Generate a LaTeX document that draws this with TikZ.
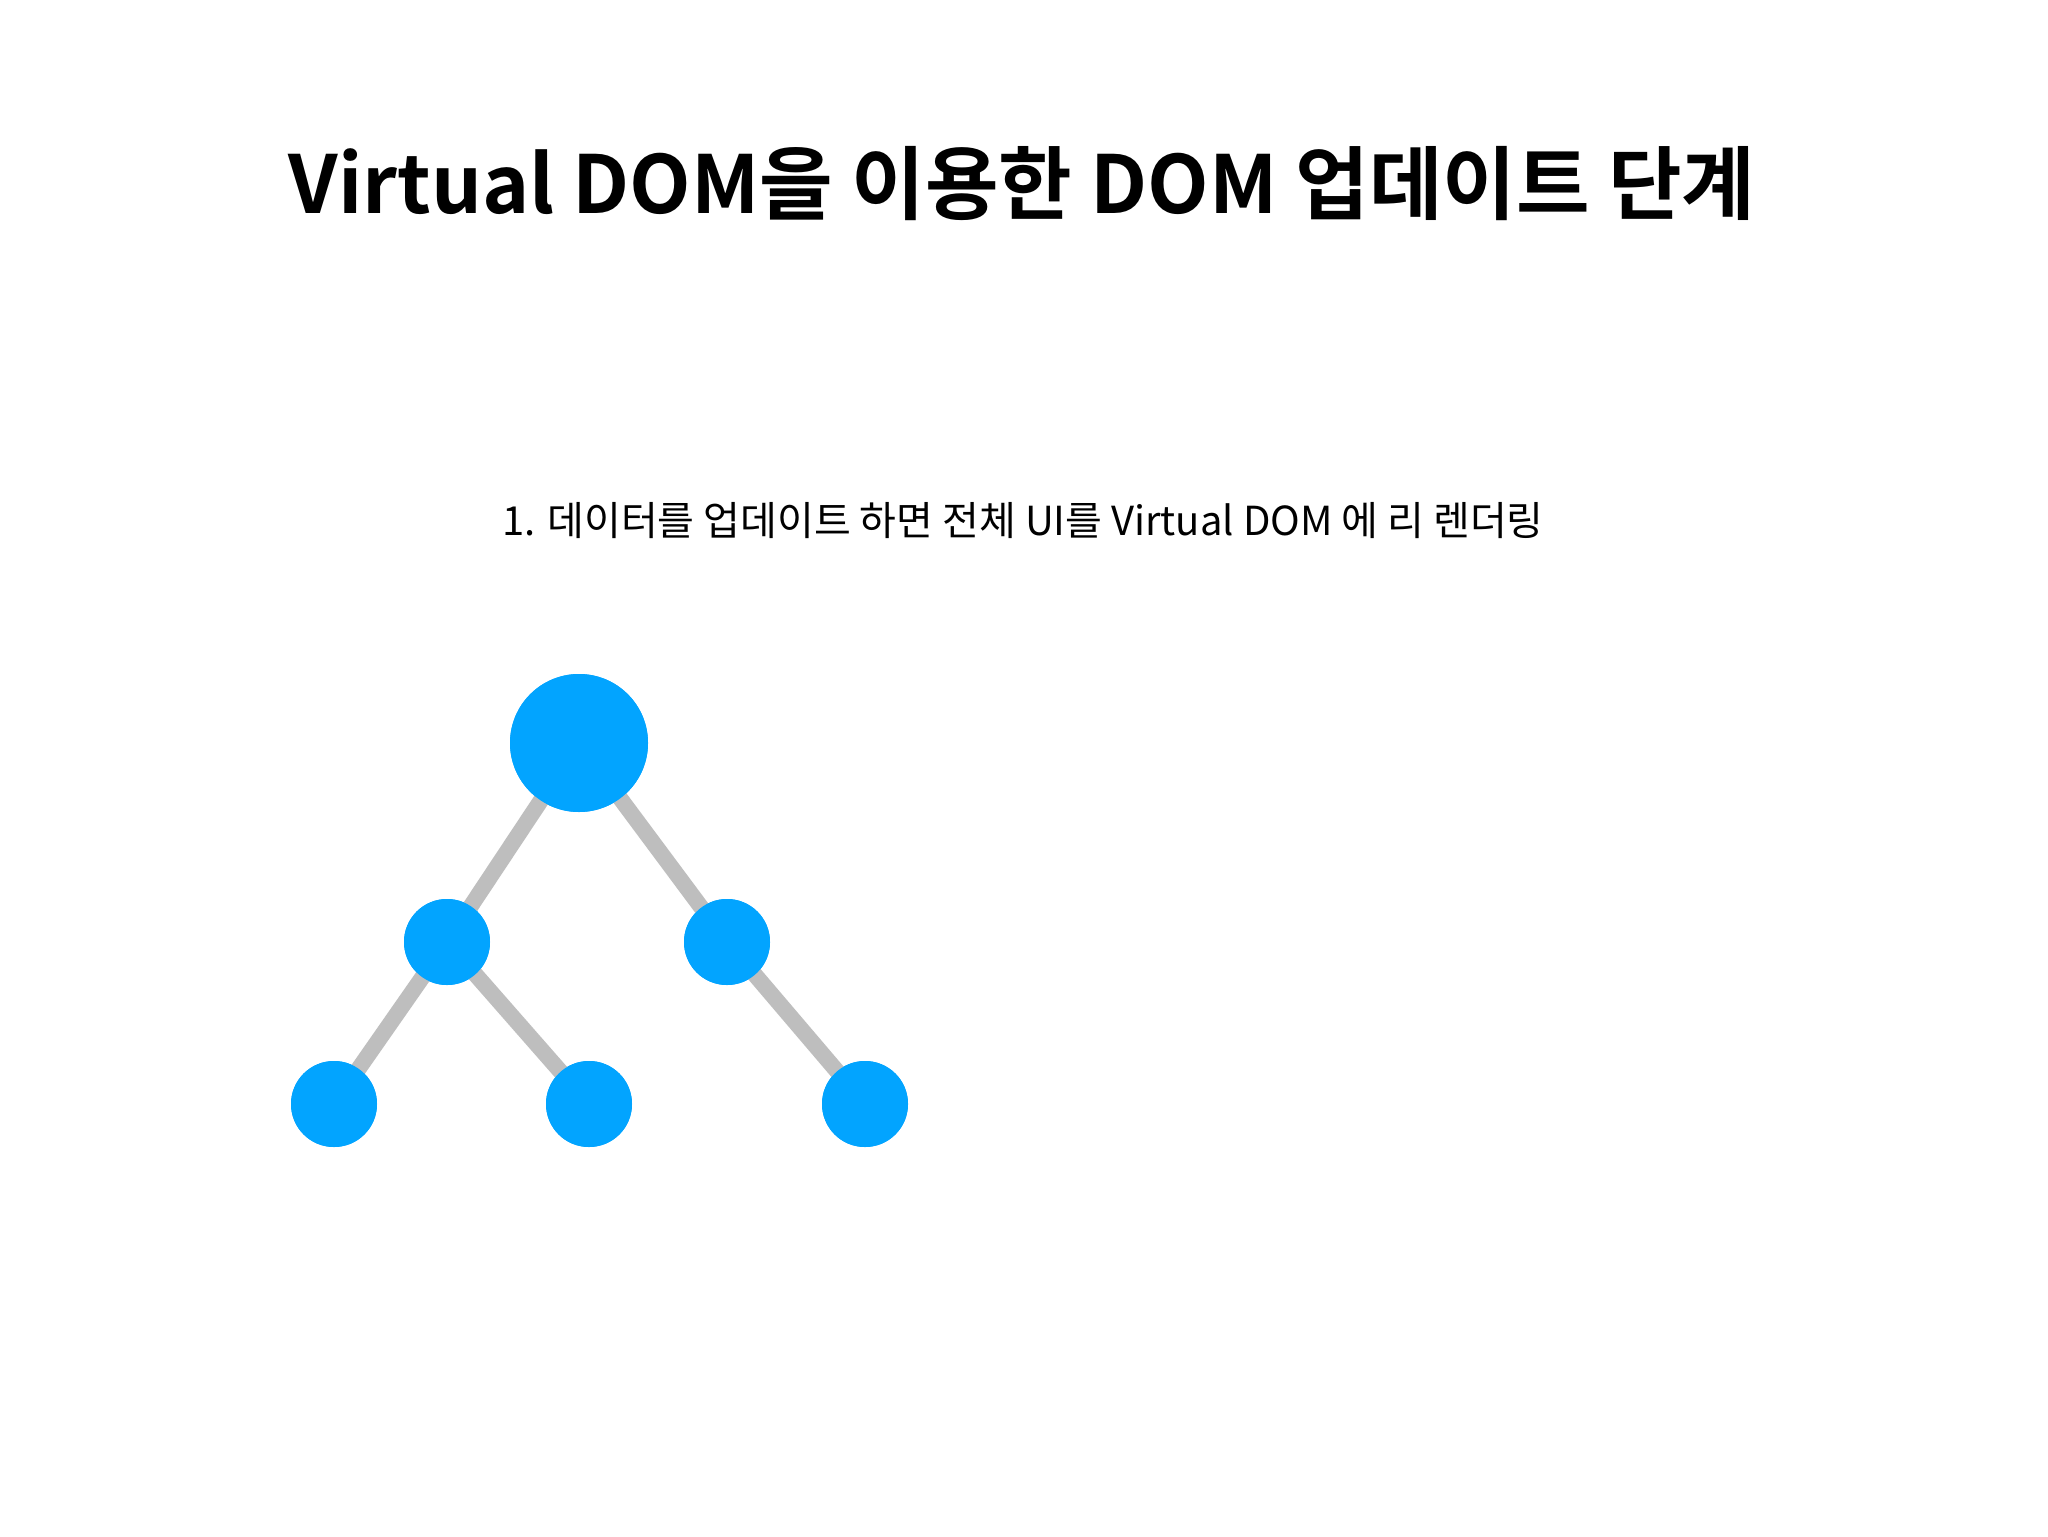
\documentclass[tikz,border=0pt]{standalone}
\usepackage{fontspec}
\setmainfont{Noto Sans CJK KR}
\newfontfamily\krbold{Noto Sans CJK KR Bold}
\definecolor{nodeblue}{RGB}{2,164,255}
\definecolor{edgegray}{RGB}{190,190,190}
\begin{document}
\begin{tikzpicture}[x=0.5pt,y=-0.5pt,
  treenode/.style={circle,fill=nodeblue,inner sep=0pt},
  bignode/.style={treenode,minimum size=69pt},
  smallnode/.style={treenode,minimum size=43pt},
  edge/.style={draw=edgegray,line width=8pt}]
\useasboundingbox (0,0) rectangle (2048,1536);
\fill[white] (0,0) rectangle (2048,1536);
\node[anchor=base,inner sep=0pt,font=\krbold\fontsize{40}{48}\selectfont] (title) at (1022,213) {Virtual DOM을 이용한 DOM 업데이트 단계};
\node[anchor=base,inner sep=0pt,font=\fontsize{20}{24}\selectfont] (sub) at (1023,535) {1. 데이터를 업데이트 하면 전체 UI를 Virtual DOM 에 리 렌더링};
\node[bignode] (r) at (579,743) {};
\node[smallnode] (a) at (447,942) {};
\node[smallnode] (b) at (727,942) {};
\node[smallnode] (c) at (334,1104) {};
\node[smallnode] (d) at (589,1104) {};
\node[smallnode] (e) at (865,1104) {};
\path[edge] (r.center) -- (a.center);
\path[edge] (r.center) -- (b.center);
\path[edge] (a.center) -- (c.center);
\path[edge] (a.center) -- (d.center);
\path[edge] (b.center) -- (e.center);
\node[bignode] at (r) {};
\node[smallnode] at (a) {};
\node[smallnode] at (b) {};
\node[smallnode] at (c) {};
\node[smallnode] at (d) {};
\node[smallnode] at (e) {};
\end{tikzpicture}
\end{document}
